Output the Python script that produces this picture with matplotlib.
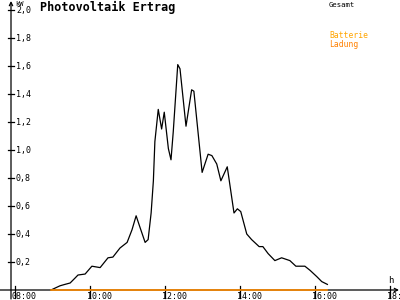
import matplotlib
matplotlib.use("Agg")
import matplotlib.pyplot as plt

# ---- data ----
hours = [8.96, 9.20, 9.33, 9.47, 9.60, 9.68, 9.87, 10.05, 10.27, 10.48, 10.61,
         10.80, 10.99, 11.12, 11.23, 11.33, 11.47, 11.55, 11.63, 11.69, 11.73,
         11.82, 11.91, 11.98, 12.09, 12.16, 12.22, 12.34, 12.40, 12.56, 12.71,
         12.77, 12.99, 13.15, 13.25, 13.38, 13.49, 13.66, 13.84, 13.93, 14.02,
         14.18, 14.31, 14.51, 14.61, 14.75, 14.93, 15.11, 15.33, 15.49, 15.73,
         15.87, 16.05, 16.18, 16.33]
gesamt = [0.00, 0.03, 0.04, 0.05, 0.085, 0.107, 0.114, 0.17, 0.16, 0.23, 0.235,
          0.30, 0.34, 0.43, 0.53, 0.45, 0.34, 0.36, 0.55, 0.78, 1.06,
          1.29, 1.15, 1.27, 1.01, 0.93, 1.13, 1.61, 1.58, 1.17, 1.43,
          1.42, 0.84, 0.97, 0.96, 0.90, 0.78, 0.88, 0.55, 0.58, 0.56,
          0.40, 0.36, 0.31, 0.31, 0.26, 0.21, 0.23, 0.21, 0.17, 0.17,
          0.14, 0.095, 0.06, 0.04]
batterie_hours = [8.96, 16.33]
batterie_ladung = [0.0, 0.0]

x_ticks = [8, 10, 12, 14, 16, 18]
x_labels = ["08:00", "10:00", "12:00", "14:00", "16:00", "18:00"]
y_ticks = [0.2, 0.4, 0.6, 0.8, 1.0, 1.2, 1.4, 1.6, 1.8, 2.0]
y_labels = ["0,2", "0,4", "0,6", "0,8", "1,0", "1,2", "1,4", "1,6", "1,8", "2,0"]

# ---- figure ----
fig = plt.figure(figsize=(4, 3), dpi=100)
ax = fig.add_axes([0, 0, 1, 1])
XL, XR = 7.6, 18.2667
YB, YT = -10 / 140, 290 / 140
ax.set_xlim(XL, XR)
ax.set_ylim(YB, YT)
ax.axis("off")

px = 1 / 37.5   # hours per pixel
py = 1 / 140    # kW per pixel
yaxis_x = 8 - 4 * px
mono = "DejaVu Sans Mono"

# axes with arrows
ax.annotate("", xy=(XR - 1 * px, 0), xytext=(XL, 0),
            arrowprops=dict(arrowstyle="->", lw=0.9, color="black",
                            shrinkA=0, shrinkB=0, mutation_scale=6))
ax.annotate("", xy=(yaxis_x, YT - 1 * py), xytext=(yaxis_x, YB + 1 * py),
            arrowprops=dict(arrowstyle="->", lw=0.9, color="black",
                            shrinkA=0, shrinkB=0, mutation_scale=6))

# y ticks
for v, lab in zip(y_ticks, y_labels):
    ax.plot([yaxis_x - 3 * px, yaxis_x + 3 * px], [v, v], color="black", lw=0.9)
    ax.text(yaxis_x + 5 * px, v, lab, fontsize=6, family=mono,
            ha="left", va="center", color="black")
ax.text(yaxis_x + 4 * px, YT - 0.5 * py, "kW", fontsize=5, family=mono,
        ha="left", va="top", color="black")

# x ticks
for h, lab in zip(x_ticks, x_labels):
    ax.plot([h, h], [4 * py, -8 * py], color="black", lw=0.9)
    ax.text(h - 3 * px, -2 * py, lab, fontsize=6, family=mono,
            ha="left", va="top", color="black")
ax.text(18.0 - 2 * px, 5 * py, "h", fontsize=6.5, family=mono,
        ha="left", va="bottom", color="black")

# series
ax.plot(hours, gesamt, color="black", lw=0.9, zorder=3)
ax.plot(batterie_hours, batterie_ladung, color="#FF8C00", lw=1.2, zorder=4)

# title and legend
fig.text(40 / 400, 1 - 7 / 300, "Photovoltaik Ertrag", fontsize=8.5,
         family=mono, weight="bold", ha="left", va="center", color="black")
fig.text(329 / 400, 1 - 5 / 300, "Gesamt", fontsize=5.2, family=mono,
         ha="left", va="center", color="black")
fig.text(329 / 400, 1 - 36 / 300, "Batterie", fontsize=5.8, family=mono,
         ha="left", va="center", color="#FFA500")
fig.text(329 / 400, 1 - 44 / 300, "Ladung", fontsize=5.8, family=mono,
         ha="left", va="center", color="#FF8000")

fig.savefig("out.png", dpi=100)
